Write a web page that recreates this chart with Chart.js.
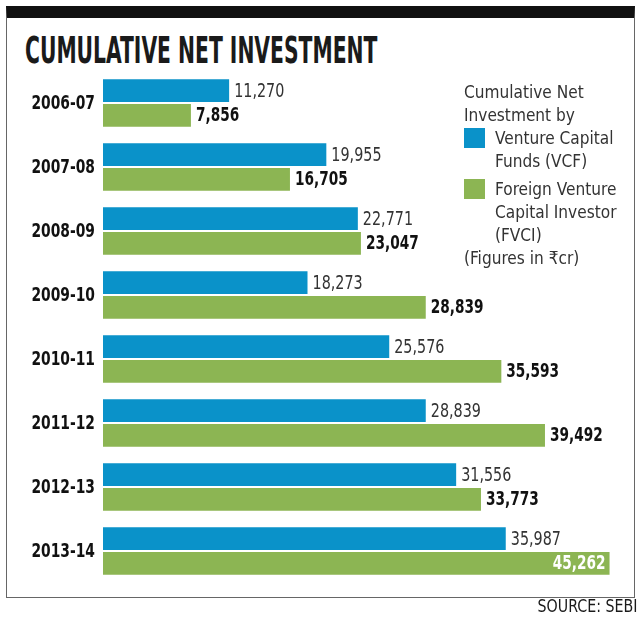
<!DOCTYPE html>
<html>
<head>
<meta charset="utf-8">
<script src="https://cdn.jsdelivr.net/npm/chart.js@4"></script>
<style>
    body { margin: 0; background: #fff; }
    #wrap { position: relative; width: 640px; height: 623px; overflow: hidden; }
    #frame { position: absolute; left: 6px; top: 6px; width: 629px; height: 592px; border: 1px solid #666; border-top: 12px solid #111; box-sizing: border-box; }
    #title { position: absolute; left: 25px; top: 29px; font-family: "DejaVu Sans Condensed", sans-serif; font-weight: bold; font-size: 37px; color: #1a1a1a; white-space: nowrap; transform: scaleX(0.61); transform-origin: left top; }
    #legend { position: absolute; left: 464px; top: 80px; font-family: "DejaVu Sans Condensed", sans-serif; font-size: 18px; line-height: 23px; color: #333; white-space: nowrap; }
    #legend .txt { display: inline-block; transform: scaleX(0.95); transform-origin: left center; }
    #legend .item { position: relative; padding-left: 31px; }
    #legend .sw { position: absolute; left: 0; top: 2px; width: 21px; height: 20px; }
    #source { position: absolute; right: 3px; top: 596px; font-family: "DejaVu Sans Condensed", sans-serif; font-size: 17px; color: #1a1a1a; transform: scaleX(0.93); transform-origin: right top; white-space: nowrap; }
    canvas { position: absolute; left: 0; top: 0; }
</style>
</head>
<body>
<div id="wrap">
    <div id="frame"></div>
    <div id="title">CUMULATIVE NET INVESTMENT</div>
    <canvas id="myChart" width="640" height="623"></canvas>
    <div id="legend"></div>
    <div id="source">SOURCE: SEBI</div>
</div>
<script>
const years = ['2006-07', '2007-08', '2008-09', '2009-10', '2010-11', '2011-12', '2012-13', '2013-14']
const vcf = [11270, 19955, 22771, 18273, 25576, 28839, 31556, 35987]
const fvci = [7856, 16705, 23047, 28839, 35593, 39492, 33773, 45262]
const seriesNames = ['Venture Capital Funds (VCF)', 'Foreign Venture Capital Investor (FVCI)']
const legendTitle = ['Cumulative Net', 'Investment by']
const legendItems = [['Venture Capital', 'Funds (VCF)'], ['Foreign Venture', 'Capital Investor', '(FVCI)']]
const legendNote = '(Figures in ₹cr)'

const blue = '#0a92c9'
const green = '#8cb553'
const narrow = '"DejaVu Sans Condensed", sans-serif'

document.addEventListener('DOMContentLoaded', function () {
    drawLegend();
    chart1();
})

function drawLegend() {
    const box = document.getElementById('legend')
    const line = t => '<div><span class="txt">' + t + '</span></div>'
    let html = legendTitle.map(line).join('')
    const colors = [blue, green]
    legendItems.forEach(function (lines, i) {
        html += '<div class="item" style="margin-top:' + (i == 0 ? 0 : 5) + 'px"><span class="sw" style="background:' + colors[i] + '"></span>' +
            lines.map(line).join('') + '</div>'
    })
    html += line(legendNote)
    box.innerHTML = html
}

// narrow text: the picture uses a condensed face, so squeeze the installed one
function squeezeText(ctx, text, x, y, sx) {
    ctx.save()
    ctx.translate(x, y)
    ctx.scale(sx, 1)
    ctx.fillText(text, 0, 0)
    ctx.restore()
}

// year labels and value labels
const labelsPlugin = {
    id: 'labelsPlugin',
    afterDatasetsDraw(chart) {
        const ctx = chart.ctx
        const yScale = chart.scales.y

        ctx.save()
        ctx.textBaseline = 'middle'
        ctx.textAlign = 'right'
        ctx.fillStyle = '#111'
        ctx.font = 'bold 20px ' + narrow
        chart.data.labels.forEach(function (lab, i) {
            squeezeText(ctx, lab, yScale.right - 8, yScale.getPixelForValue(i) + 1, 0.77)
        })
        ctx.restore()

        chart.data.datasets.forEach(function (ds, di) {
            const meta = chart.getDatasetMeta(di)
            meta.data.forEach(function (bar, i) {
                const text = ds.data[i].toLocaleString('en-US')
                ctx.save()
                ctx.textBaseline = 'middle'
                ctx.font = (di == 1 ? 'bold ' : '') + '19px ' + narrow
                if (di == 1 && i == ds.data.length - 1) {
                    ctx.fillStyle = '#fff'
                    ctx.textAlign = 'right'
                    squeezeText(ctx, text, bar.x - 4, bar.y + 1, 0.8)
                } else {
                    ctx.fillStyle = di == 1 ? '#111' : '#333'
                    ctx.textAlign = 'left'
                    squeezeText(ctx, text, bar.x + 5, bar.y + 1, di == 1 ? 0.8 : 0.84)
                }
                ctx.restore()
            })
        })
    }
}

function chart1() {
    let ctx = document.getElementById('myChart')
    const data = {
        labels: years,
        datasets: [{
            label: seriesNames[0],
            data: vcf,
            backgroundColor: blue,
            categoryPercentage: 0.77,
            barPercentage: 0.92,
        }, {
            label: seriesNames[1],
            data: fvci,
            backgroundColor: green,
            categoryPercentage: 0.77,
            barPercentage: 0.92,
        }]
    };

    const config = {
        type: 'bar',
        data: data,
        plugins: [labelsPlugin],
        options: {
            indexAxis: 'y',
            responsive: false,
            animation: false,
            layout: {
                padding: { top: 71, bottom: 40, right: 11, left: 0 }
            },
            plugins: {
                legend: { display: false },
                tooltip: { enabled: false },
            },
            scales: {
                x: {
                    display: false,
                    min: 0,
                    max: 47000,
                },
                y: {
                    grid: { display: false },
                    border: { display: false },
                    ticks: { display: false },
                    afterFit: function (scale) { scale.width = 103 },
                }
            }
        }
    };

    const myChart = new Chart(ctx, config)
}
</script>
</body>
</html>
